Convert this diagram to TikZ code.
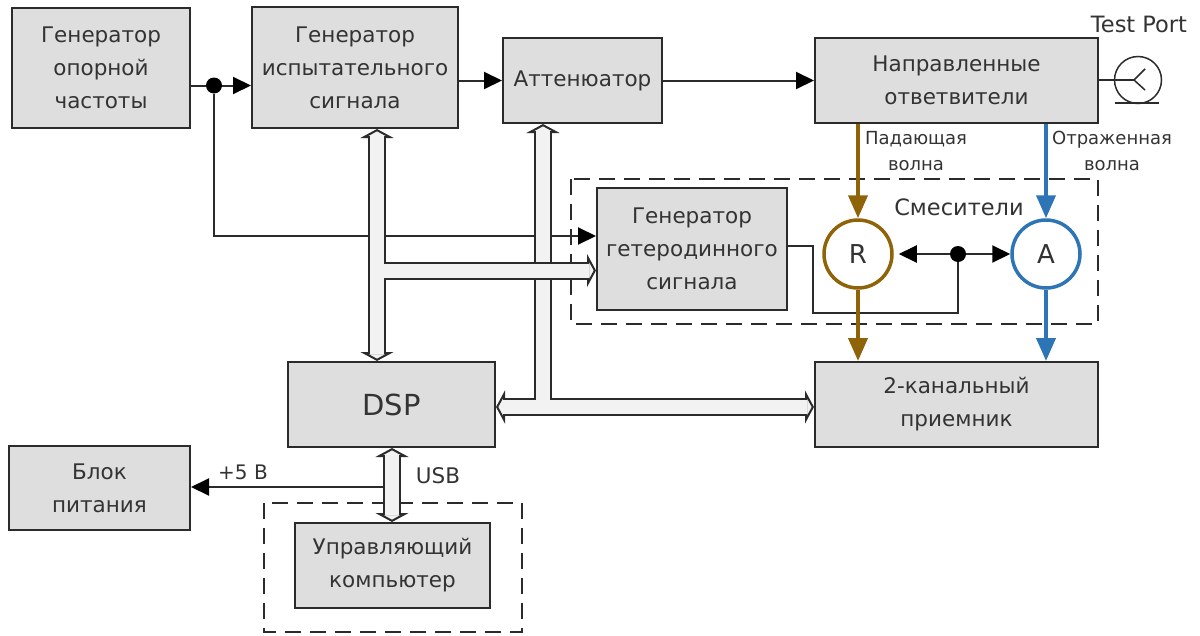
\documentclass[tikz,border=0pt]{standalone}
\usepackage{fontspec}
\setmainfont{DejaVu Sans}
\usetikzlibrary{arrows.meta, calc}
\definecolor{line_dark}{HTML}{2B2B2B}
\definecolor{block_gray}{HTML}{DEDEDE}
\definecolor{bus_gray}{HTML}{F2F2F2}
\definecolor{text_dark}{HTML}{333333}
\definecolor{wave_r}{HTML}{8F6408}
\definecolor{wave_a}{HTML}{2E75B6}
\tikzset{
  block_font/.style = {font=\fontsize{21.5}{33}\selectfont},
  note_font/.style = {font=\fontsize{18}{26}\selectfont},
  block/.style = {block_font, draw=line_dark, line width=2, fill=block_gray, text=text_dark, align=center, inner sep=0},
  label/.style = {block_font, text=text_dark, align=center, inner sep=0},
  note/.style = {note_font, text=text_dark, align=center, inner sep=0},
  frame/.style = {draw=line_dark, line width=2, dash pattern=on 16 off 9},
  dot/.style = {circle, fill=black, minimum size=16, inner sep=0}
}
\tikzset{
  wire/.style = {draw=line_dark, line width=2},
  wire_arrow/.style = {wire, -{Triangle[length=18pt, width=17pt, black]}},
  wave/.style = {line width=4, -{Triangle[length=23pt, width=19pt]}},
  mixer/.style = {circle, draw, line width=3.5, fill=white, minimum size=68, inner sep=0, text=text_dark, font=\fontsize{26}{30}\selectfont},
  bus_line/.style = {draw=line_dark, line width=18},
  bus_both/.style = {bus_line, {Triangle[length=9pt, width=33pt, line width=2pt, fill=bus_gray]}-{Triangle[length=9pt, width=33pt, line width=2pt, fill=bus_gray]}},
  bus_start/.style = {bus_line, {Triangle[length=9pt, width=33pt, line width=2pt, fill=bus_gray]}-},
  bus_end/.style = {bus_line, -{Triangle[length=9pt, width=33pt, line width=2pt, fill=bus_gray]}},
  bus_fill/.style = {draw=bus_gray, line width=14}
}
\begin{document}
\begin{tikzpicture}[x=1pt, y=-1pt]
    \useasboundingbox (0,0) rectangle (1200,635);

    % Blocks
    \node[block, minimum width=178, minimum height=120] (ref) at (101,68) {
        Генератор\\опорной\\частоты};
    \node[block, minimum width=206, minimum height=121] (gen) at (355,67.5) {
        Генератор\\испытательного\\сигнала};
    \node[block, minimum width=159, minimum height=85] (att) at (582.5,80.5) {
        Аттенюатор};
    \node[block, minimum width=283, minimum height=85] (dir) at (956.5,80.5) {
        Направленные\\ответвители};
    \node[block, minimum width=190, minimum height=122] (lo) at (692,249) {
        Генератор\\гетеродинного\\сигнала};
    \node[block, minimum width=207, minimum height=85, font=\fontsize{29}{33}\selectfont] (dsp) at (391.5,404.5) {
        DSP};
    \node[block, minimum width=283, minimum height=85] (rx) at (956.5,404.5) {
        2-канальный\\приемник};
    \node[block, minimum width=181, minimum height=84] (psu) at (99.5,488) {
        Блок\\питания};
    \node[block, minimum width=195, minimum height=85] (pc) at (392.5,565.5) {
        Управляющий\\компьютер};

    % Mixers and dots
    \node[mixer, draw=wave_r] (mix_r) at (858,254) {R};
    \node[mixer, draw=wave_a] (mix_a) at (1046,254) {A};
    \node[dot] (dot_ref) at (214,85.5) {};
    \node[dot] (dot_lo) at (958,254) {};
    \node[circle, draw=line_dark, line width=1.5, minimum size=47, inner sep=0] (port) at (1138,80) {};

    % Labels
    \node[label, font=\fontsize{22.5}{27}\selectfont] (l_port) at (1139,24) {Test Port};
    \node[label, font=\fontsize{22.5}{27}\selectfont] (l_mix) at (959,207) {Смесители};
    \node[note] (l_r) at (916,151) {Падающая\\волна};
    \node[note] (l_a) at (1112,151) {Отраженная\\волна};
    \node[label, font=\fontsize{20}{24}\selectfont] (l_5v) at (243,472) {+5 В};
    \node[label, font=\fontsize{21.5}{24}\selectfont] (l_usb) at (438,476) {USB};

    % Helper points
    \coordinate (c_lo_in) at (214,236);
    \coordinate (c_lo_out) at (813,246);
    \coordinate (c_lo_low) at (813,313);
    \coordinate (c_fork) at (1134,80);
    \coordinate (c_bus_gen) at (377,270.5);
    \coordinate (c_bus_att) at (543,407);
    \coordinate (c_bus_usb) at (392,487);
    \coordinate (c_gnd_l) at (1115,103);
    \coordinate (c_gnd_r) at (1159,103);

    % Frames
    \draw[frame] (571,179) rectangle (1098,324);
    \draw[frame] (264,503) rectangle (522,632);

    % Thin wires
    \draw[wire] (ref.east |- dot_ref)--(dot_ref);
    \draw[wire_arrow] (dot_ref)--(gen.west |- dot_ref);
    \draw[wire_arrow] (gen.east |- att)--(att.west);
    \draw[wire_arrow] (att.east)--(dir.west);
    \draw[wire_arrow] (dot_ref)--(c_lo_in)--(lo.west |- c_lo_in);
    \draw[wire] (lo.east |- c_lo_out)--(c_lo_out)--(c_lo_low)--(c_lo_low -| dot_lo)--(dot_lo);
    \draw[wire_arrow, shorten >=5] (dot_lo)--(mix_r);
    \draw[wire_arrow] (dot_lo)--(mix_a);
    \draw[wire] (dir.east |- port)--(c_fork);
    \draw[wire, line width=1.5] (c_fork)--++(11,-11);
    \draw[wire, line width=1.5] (c_fork)--++(11,10);
    \draw[wire, line width=1.5] (c_gnd_l)--(c_gnd_r);

    % Waves
    \draw[wave, wave_r] (mix_r |- dir.south)--(mix_r);
    \draw[wave, wave_a] (mix_a |- dir.south)--(mix_a);
    \draw[wave, wave_r] (mix_r)--(mix_r |- rx.north);
    \draw[wave, wave_a] (mix_a)--(mix_a |- rx.north);

    % Buses
    \draw[bus_start] (c_bus_att |- att.south)--(c_bus_att);
    \draw[bus_both] (dsp.east |- c_bus_att)--(rx.west |- c_bus_att);
    \draw[bus_fill, shorten <=7] (c_bus_att |- att.south)--(c_bus_att);
    \draw[bus_fill, shorten <=7, shorten >=7] (dsp.east |- c_bus_att)--(rx.west |- c_bus_att);

    \draw[bus_both] (c_bus_gen |- gen.south)--(c_bus_gen |- dsp.north);
    \draw[bus_end] (c_bus_gen)--(lo.west |- c_bus_gen);
    \draw[bus_fill, shorten <=7, shorten >=7] (c_bus_gen |- gen.south)--(c_bus_gen |- dsp.north);
    \draw[bus_fill, shorten >=7] (c_bus_gen)--(lo.west |- c_bus_gen);

    \draw[wire_arrow] (c_bus_usb)--(psu.east |- c_bus_usb);
    \draw[bus_both] (c_bus_usb |- dsp.south)--(c_bus_usb |- pc.north);
    \draw[bus_fill, shorten <=7, shorten >=7] (c_bus_usb |- dsp.south)--(c_bus_usb |- pc.north);
\end{tikzpicture}
\end{document}
